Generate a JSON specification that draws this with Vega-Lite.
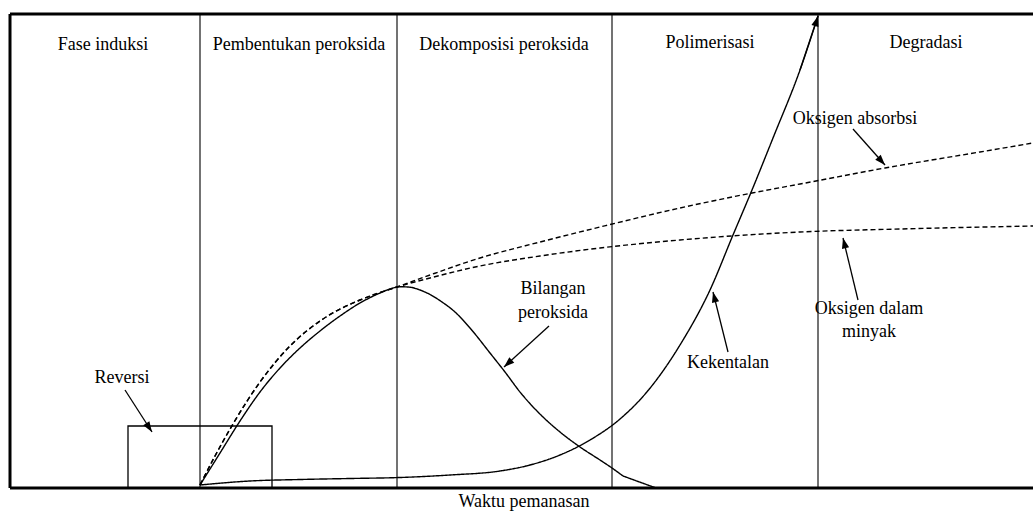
{
  "$schema": "https://vega.github.io/schema/vega-lite/v6.json",
  "width": 1023,
  "height": 474,
  "autosize": {"type": "none"},
  "padding": {"left": 10, "top": 14, "right": 0, "bottom": 27},
  "background": "white",
  "config": {"view": {"stroke": null}},
  "datasets": {
    "frameH": [{"y": 0}, {"y": 474}],
    "frameV": [{"x": 0}],
    "phases": [{"x": 190}, {"x": 387}, {"x": 602}, {"x": 808}],
    "box": [{"x": 118, "x2": 262, "y": 0, "y2": 62}],
    "curves": [
      {"series": "Bilangan peroksida", "x": 190, "y": 3},
      {"series": "Bilangan peroksida", "x": 210, "y": 35},
      {"series": "Bilangan peroksida", "x": 230, "y": 67},
      {"series": "Bilangan peroksida", "x": 250, "y": 96},
      {"series": "Bilangan peroksida", "x": 270, "y": 120},
      {"series": "Bilangan peroksida", "x": 290, "y": 140},
      {"series": "Bilangan peroksida", "x": 310, "y": 157},
      {"series": "Bilangan peroksida", "x": 330, "y": 172},
      {"series": "Bilangan peroksida", "x": 350, "y": 185},
      {"series": "Bilangan peroksida", "x": 370, "y": 195},
      {"series": "Bilangan peroksida", "x": 380, "y": 199},
      {"series": "Bilangan peroksida", "x": 390, "y": 201.3},
      {"series": "Bilangan peroksida", "x": 400, "y": 200.8},
      {"series": "Bilangan peroksida", "x": 410, "y": 198},
      {"series": "Bilangan peroksida", "x": 420, "y": 193.5},
      {"series": "Bilangan peroksida", "x": 432, "y": 186},
      {"series": "Bilangan peroksida", "x": 445, "y": 176},
      {"series": "Bilangan peroksida", "x": 460, "y": 160},
      {"series": "Bilangan peroksida", "x": 480, "y": 135},
      {"series": "Bilangan peroksida", "x": 495, "y": 116},
      {"series": "Bilangan peroksida", "x": 510, "y": 96},
      {"series": "Bilangan peroksida", "x": 533, "y": 71},
      {"series": "Bilangan peroksida", "x": 550, "y": 56},
      {"series": "Bilangan peroksida", "x": 570, "y": 41},
      {"series": "Bilangan peroksida", "x": 590, "y": 28},
      {"series": "Bilangan peroksida", "x": 602, "y": 20},
      {"series": "Bilangan peroksida", "x": 613, "y": 12},
      {"series": "Bilangan peroksida (ujung)", "x": 613, "y": 12},
      {"series": "Bilangan peroksida (ujung)", "x": 646, "y": 0},
      {"series": "Kekentalan", "x": 190, "y": 3},
      {"series": "Kekentalan", "x": 240, "y": 7},
      {"series": "Kekentalan", "x": 290, "y": 8.5},
      {"series": "Kekentalan", "x": 340, "y": 9.5},
      {"series": "Kekentalan", "x": 390, "y": 10.5},
      {"series": "Kekentalan", "x": 440, "y": 13},
      {"series": "Kekentalan", "x": 490, "y": 17},
      {"series": "Kekentalan", "x": 520, "y": 23},
      {"series": "Kekentalan", "x": 550, "y": 33},
      {"series": "Kekentalan", "x": 580, "y": 48},
      {"series": "Kekentalan", "x": 610, "y": 69},
      {"series": "Kekentalan", "x": 636, "y": 95},
      {"series": "Kekentalan", "x": 670, "y": 143},
      {"series": "Kekentalan", "x": 700, "y": 198},
      {"series": "Kekentalan", "x": 723, "y": 253},
      {"series": "Kekentalan", "x": 742, "y": 298},
      {"series": "Kekentalan", "x": 763, "y": 350},
      {"series": "Kekentalan", "x": 790, "y": 418},
      {"series": "Kekentalan", "x": 808, "y": 472},
      {"series": "Oksigen absorbsi", "x": 190, "y": 3},
      {"series": "Oksigen absorbsi", "x": 205, "y": 32},
      {"series": "Oksigen absorbsi", "x": 223, "y": 64},
      {"series": "Oksigen absorbsi", "x": 250, "y": 106},
      {"series": "Oksigen absorbsi", "x": 280, "y": 142},
      {"series": "Oksigen absorbsi", "x": 313, "y": 169},
      {"series": "Oksigen absorbsi", "x": 350, "y": 188},
      {"series": "Oksigen absorbsi", "x": 387, "y": 201},
      {"series": "Oksigen absorbsi", "x": 420, "y": 213},
      {"series": "Oksigen absorbsi", "x": 470, "y": 230},
      {"series": "Oksigen absorbsi", "x": 530, "y": 246},
      {"series": "Oksigen absorbsi", "x": 590, "y": 261},
      {"series": "Oksigen absorbsi", "x": 670, "y": 280},
      {"series": "Oksigen absorbsi", "x": 742, "y": 295},
      {"series": "Oksigen absorbsi", "x": 790, "y": 304},
      {"series": "Oksigen absorbsi", "x": 875, "y": 320},
      {"series": "Oksigen absorbsi", "x": 970, "y": 336},
      {"series": "Oksigen absorbsi", "x": 1023, "y": 345},
      {"series": "Oksigen dalam minyak", "x": 190, "y": 3},
      {"series": "Oksigen dalam minyak", "x": 205, "y": 32},
      {"series": "Oksigen dalam minyak", "x": 223, "y": 64},
      {"series": "Oksigen dalam minyak", "x": 250, "y": 106},
      {"series": "Oksigen dalam minyak", "x": 280, "y": 142},
      {"series": "Oksigen dalam minyak", "x": 313, "y": 169},
      {"series": "Oksigen dalam minyak", "x": 350, "y": 188},
      {"series": "Oksigen dalam minyak", "x": 387, "y": 201},
      {"series": "Oksigen dalam minyak", "x": 420, "y": 210},
      {"series": "Oksigen dalam minyak", "x": 470, "y": 222},
      {"series": "Oksigen dalam minyak", "x": 530, "y": 232},
      {"series": "Oksigen dalam minyak", "x": 590, "y": 240},
      {"series": "Oksigen dalam minyak", "x": 670, "y": 248},
      {"series": "Oksigen dalam minyak", "x": 790, "y": 256},
      {"series": "Oksigen dalam minyak", "x": 890, "y": 259},
      {"series": "Oksigen dalam minyak", "x": 1023, "y": 262}
    ],
    "arrows": [
      {"id": "reversi", "x": 115, "y": 98, "x2": 142, "y2": 56},
      {"id": "bilangan", "x": 539, "y": 162, "x2": 494, "y2": 121},
      {"id": "kekentalan", "x": 718, "y": 136, "x2": 703, "y2": 196},
      {"id": "absorbsi", "x": 843, "y": 359, "x2": 875, "y2": 323},
      {"id": "dalam", "x": 848, "y": 188, "x2": 833, "y2": 250},
      {"id": "kurva", "x": 790, "y": 418, "x2": 808, "y2": 472}
    ],
    "labels": [
      {"x": 93, "y": 443, "label": "Fase induksi"},
      {"x": 289, "y": 443, "label": "Pembentukan peroksida"},
      {"x": 494, "y": 443, "label": "Dekomposisi peroksida"},
      {"x": 700, "y": 445, "label": "Polimerisasi"},
      {"x": 916, "y": 445, "label": "Degradasi"},
      {"x": 112, "y": 110, "label": "Reversi"},
      {"x": 543, "y": 199, "label": "Bilangan"},
      {"x": 543, "y": 175, "label": "peroksida"},
      {"x": 718, "y": 125, "label": "Kekentalan"},
      {"x": 845, "y": 369, "label": "Oksigen absorbsi"},
      {"x": 859, "y": 179, "label": "Oksigen dalam"},
      {"x": 859, "y": 156, "label": "minyak"},
      {"x": 514, "y": -14, "label": "Waktu pemanasan"}
    ]
  },
  "layer": [
    {
      "data": {"name": "phases"},
      "mark": {"type": "rule", "color": "#444444", "strokeWidth": 1.5},
      "encoding": {
        "x": {"field": "x", "type": "quantitative", "scale": {"domain": [0, 1023], "nice": false, "zero": false}, "axis": null}
      }
    },
    {
      "data": {"name": "frameH"},
      "mark": {"type": "rule", "color": "black", "strokeWidth": 3},
      "encoding": {
        "y": {"field": "y", "type": "quantitative", "scale": {"domain": [0, 474], "nice": false, "zero": false}, "axis": null}
      }
    },
    {
      "data": {"name": "frameV"},
      "mark": {"type": "rule", "color": "black", "strokeWidth": 3},
      "encoding": {
        "x": {"field": "x", "type": "quantitative", "scale": {"domain": [0, 1023], "nice": false, "zero": false}, "axis": null}
      }
    },
    {
      "data": {"name": "box"},
      "mark": {"type": "rect", "fill": null, "fillOpacity": 0, "stroke": "black", "strokeWidth": 1.3},
      "encoding": {
        "x": {"field": "x", "type": "quantitative", "scale": {"domain": [0, 1023], "nice": false, "zero": false}, "axis": null},
        "x2": {"field": "x2"},
        "y": {"field": "y", "type": "quantitative", "scale": {"domain": [0, 474], "nice": false, "zero": false}, "axis": null},
        "y2": {"field": "y2"}
      }
    },
    {
      "data": {"name": "curves"},
      "mark": {"type": "line", "interpolate": "monotone", "color": "black", "strokeWidth": 1.4},
      "encoding": {
        "x": {"field": "x", "type": "quantitative", "scale": {"domain": [0, 1023], "nice": false, "zero": false}, "axis": null},
        "y": {"field": "y", "type": "quantitative", "scale": {"domain": [0, 474], "nice": false, "zero": false}, "axis": null},
        "detail": {"field": "series"},
        "strokeDash": {"field": "series", "type": "nominal", "legend": null,
          "scale": {"domain": ["Bilangan peroksida", "Bilangan peroksida (ujung)", "Kekentalan", "Oksigen absorbsi", "Oksigen dalam minyak"], "range": [[1, 0], [1, 0], [1, 0], [5, 3], [5, 3]]}}
      }
    },
    {
      "data": {"name": "arrows"},
      "mark": {"type": "rule", "color": "black", "strokeWidth": 1.3},
      "encoding": {
        "x": {"field": "x", "type": "quantitative", "scale": {"domain": [0, 1023], "nice": false, "zero": false}, "axis": null},
        "y": {"field": "y", "type": "quantitative", "scale": {"domain": [0, 474], "nice": false, "zero": false}, "axis": null},
        "x2": {"field": "x2"},
        "y2": {"field": "y2"}
      }
    },
    {
      "data": {"name": "arrows"},
      "transform": [{"filter": "datum.id == 'reversi'"}],
      "mark": {"type": "point", "shape": "M0,0L-0.7,2L0.7,2Z", "filled": true, "color": "black", "opacity": 1, "size": 110, "angle": 147},
      "encoding": {
        "x": {"field": "x2", "type": "quantitative", "scale": {"domain": [0, 1023], "nice": false, "zero": false}, "axis": null},
        "y": {"field": "y2", "type": "quantitative", "scale": {"domain": [0, 474], "nice": false, "zero": false}, "axis": null}
      }
    },
    {
      "data": {"name": "arrows"},
      "transform": [{"filter": "datum.id == 'bilangan'"}],
      "mark": {"type": "point", "shape": "M0,0L-0.7,2L0.7,2Z", "filled": true, "color": "black", "opacity": 1, "size": 110, "angle": 228},
      "encoding": {
        "x": {"field": "x2", "type": "quantitative", "scale": {"domain": [0, 1023], "nice": false, "zero": false}, "axis": null},
        "y": {"field": "y2", "type": "quantitative", "scale": {"domain": [0, 474], "nice": false, "zero": false}, "axis": null}
      }
    },
    {
      "data": {"name": "arrows"},
      "transform": [{"filter": "datum.id == 'kekentalan'"}],
      "mark": {"type": "point", "shape": "M0,0L-0.7,2L0.7,2Z", "filled": true, "color": "black", "opacity": 1, "size": 110, "angle": 346},
      "encoding": {
        "x": {"field": "x2", "type": "quantitative", "scale": {"domain": [0, 1023], "nice": false, "zero": false}, "axis": null},
        "y": {"field": "y2", "type": "quantitative", "scale": {"domain": [0, 474], "nice": false, "zero": false}, "axis": null}
      }
    },
    {
      "data": {"name": "arrows"},
      "transform": [{"filter": "datum.id == 'absorbsi'"}],
      "mark": {"type": "point", "shape": "M0,0L-0.7,2L0.7,2Z", "filled": true, "color": "black", "opacity": 1, "size": 110, "angle": 138},
      "encoding": {
        "x": {"field": "x2", "type": "quantitative", "scale": {"domain": [0, 1023], "nice": false, "zero": false}, "axis": null},
        "y": {"field": "y2", "type": "quantitative", "scale": {"domain": [0, 474], "nice": false, "zero": false}, "axis": null}
      }
    },
    {
      "data": {"name": "arrows"},
      "transform": [{"filter": "datum.id == 'dalam'"}],
      "mark": {"type": "point", "shape": "M0,0L-0.7,2L0.7,2Z", "filled": true, "color": "black", "opacity": 1, "size": 110, "angle": 346},
      "encoding": {
        "x": {"field": "x2", "type": "quantitative", "scale": {"domain": [0, 1023], "nice": false, "zero": false}, "axis": null},
        "y": {"field": "y2", "type": "quantitative", "scale": {"domain": [0, 474], "nice": false, "zero": false}, "axis": null}
      }
    },
    {
      "data": {"name": "arrows"},
      "transform": [{"filter": "datum.id == 'kurva'"}],
      "mark": {"type": "point", "shape": "M0,0L-0.7,2L0.7,2Z", "filled": true, "color": "black", "opacity": 1, "size": 110, "angle": 17},
      "encoding": {
        "x": {"field": "x2", "type": "quantitative", "scale": {"domain": [0, 1023], "nice": false, "zero": false}, "axis": null},
        "y": {"field": "y2", "type": "quantitative", "scale": {"domain": [0, 474], "nice": false, "zero": false}, "axis": null}
      }
    },
    {
      "data": {"name": "labels"},
      "mark": {"type": "text", "font": "Liberation Serif", "fontSize": 18, "color": "black", "align": "center", "baseline": "middle"},
      "encoding": {
        "x": {"field": "x", "type": "quantitative", "scale": {"domain": [0, 1023], "nice": false, "zero": false}, "axis": null},
        "y": {"field": "y", "type": "quantitative", "scale": {"domain": [0, 474], "nice": false, "zero": false}, "axis": null},
        "text": {"field": "label"}
      }
    }
  ]
}
